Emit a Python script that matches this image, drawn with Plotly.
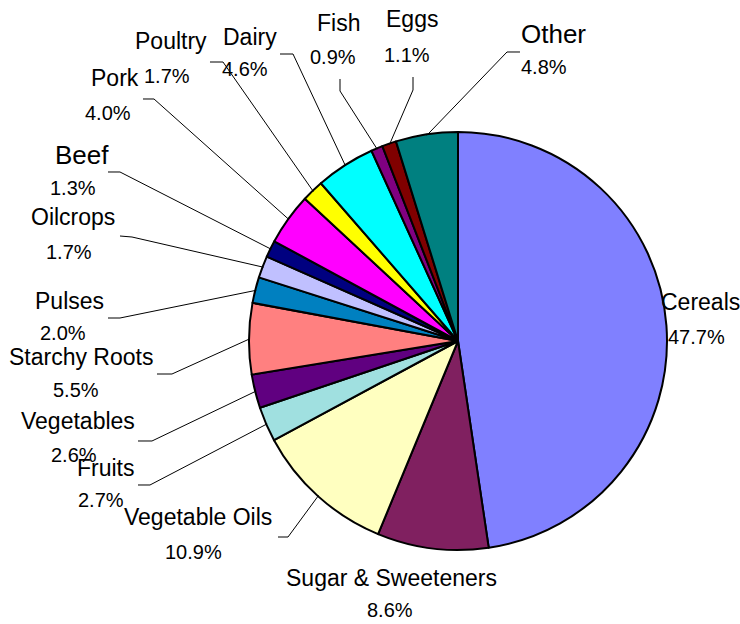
import math
import plotly.graph_objects as go

# ---- data ----
categories = ["Cereals", "Sugar & Sweeteners", "Vegetable Oils", "Fruits", "Vegetables",
              "Starchy Roots", "Pulses", "Oilcrops", "Beef", "Pork", "Poultry", "Dairy",
              "Fish", "Eggs", "Other"]
shares = [47.7, 8.6, 10.9, 2.7, 2.6, 5.5, 2.0, 1.7, 1.3, 4.0, 1.7, 4.6, 0.9, 1.1, 4.8]
colors = ["#8080FF", "#802060", "#FFFFC0", "#A0E0E0", "#600080", "#FF8080", "#0080C0",
          "#C0C0FF", "#000080", "#FF00FF", "#FFFF00", "#00FFFF", "#800080", "#800000", "#008080"]
pct_labels = [f"{v:.1f}%" for v in shares]

# ---- layout (pixels) ----
W, H = 740, 624
CX, CY, R = 458, 341, 209

name_pos = [(700, 302), (391, 578), (198, 517), (106, 468), (78, 421), (81, 357), (69, 301),
            (73, 217), (82, 155), (115, 78), (171, 41), (250, 37), (338, 23), (412, 19), (553, 34)]
pct_pos = [(696, 337), (390, 610), (193, 552), (101, 500), (74, 455), (76, 390), (63, 333),
           (69, 252), (73, 188), (108, 113), (167, 76), (245, 69), (333, 57), (407, 55), (544, 67)]
name_size = [23, 23, 23, 23, 23, 23, 23, 23, 26, 23, 23, 23, 23, 23, 26]
# leader stubs: (outer end, elbow); None = no leader
stubs = [None, None, ((278, 537), (288, 537)), ((138, 485), (150, 485)), ((138, 441), (152, 441)),
         ((157, 374), (172, 374)), ((108, 318), (120, 318)), ((120, 236), (132, 237)),
         ((108, 172), (120, 172)), ((143, 99), (154, 99)), ((210, 62), (223, 62)),
         ((280, 54), (293, 54)), ((340, 79), (340, 91)), ((413, 77), (413, 90)),
         ((520, 52), (507, 52))]


def px(x, y):
    return x / W, 1 - y / H


fig = go.Figure(go.Pie(
    labels=categories, values=shares, sort=False, direction="clockwise", rotation=0,
    marker=dict(colors=colors, line=dict(color="black", width=2)),
    textinfo="none", hoverinfo="label+percent", showlegend=False,
    domain=dict(x=[(CX - R) / W, (CX + R) / W], y=[1 - (CY + R) / H, 1 - (CY - R) / H]),
))

NAME_FONT = "Liberation Sans, Arial, sans-serif"
PCT_FONT = "Liberation Sans, Arial, sans-serif"

annotations = []
shapes = []
total = sum(shares)
cum = 0.0
for i, cat in enumerate(categories):
    mid = (cum + shares[i] / 2) / total
    cum += shares[i]
    nx, ny = px(*name_pos[i])
    annotations.append(dict(x=nx, y=ny, xref="paper", yref="paper", text=cat, showarrow=False,
                            xanchor="center", yanchor="middle",
                            font=dict(family=NAME_FONT, size=name_size[i], color="black")))
    qx, qy = px(*pct_pos[i])
    annotations.append(dict(x=qx, y=qy, xref="paper", yref="paper", text=pct_labels[i],
                            showarrow=False, xanchor="center", yanchor="middle",
                            font=dict(family=PCT_FONT, size=20, color="black")))
    if stubs[i] is not None:
        theta = 2 * math.pi * mid
        ex = CX + (R - 1) * math.sin(theta)
        ey = CY - (R - 1) * math.cos(theta)
        (ax_, ay_), (bx_, by_) = stubs[i]
        pts = [(ax_, ay_), (bx_, by_), (ex, ey)]
        path = "M " + " L ".join(f"{px(x, y)[0]:.5f},{px(x, y)[1]:.5f}" for x, y in pts)
        shapes.append(dict(type="path", xref="paper", yref="paper", path=path,
                           line=dict(color="black", width=1)))

fig.update_layout(width=W, height=H, margin=dict(l=0, r=0, t=0, b=0),
                  paper_bgcolor="white", plot_bgcolor="white",
                  annotations=annotations, shapes=shapes)

fig.write_html("out.html", config={"displayModeBar": False},
               post_script="document.body.style.margin='0px';")
